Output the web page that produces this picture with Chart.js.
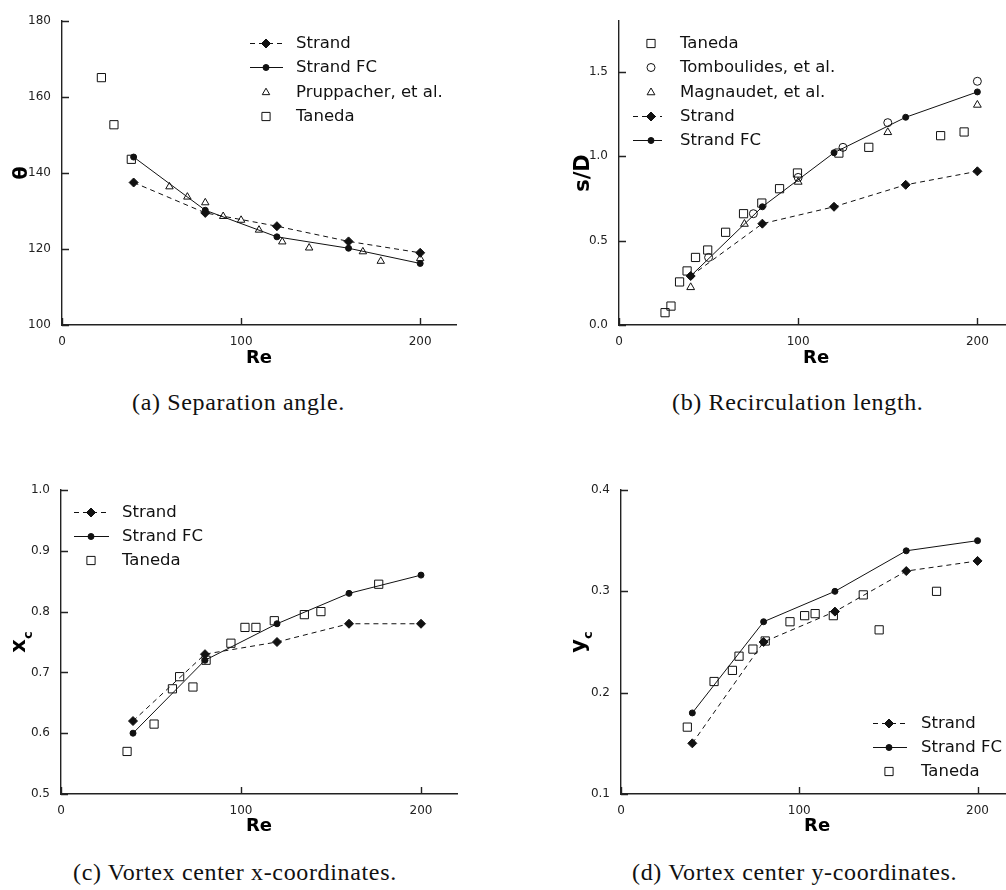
<!DOCTYPE html>
<html>
<head>
<meta charset="utf-8">
<script src="https://cdn.jsdelivr.net/npm/chart.js@4.4.0/dist/chart.umd.min.js"></script>
<style>
  html, body { margin: 0; padding: 0; background: #fff; overflow: hidden; width: 1006px; height: 890px; }
  canvas { position: absolute; }
  .didascalia {
    position: absolute;
    font-family: "Liberation Serif", serif;
    font-size: 24px;
    line-height: 24px;
    letter-spacing: 0.65px;
    color: #111;
    white-space: nowrap;
  }
</style>
</head>
<body>
<canvas id="grafico-a" style="left:0;top:0" width="470" height="372"></canvas>
<canvas id="grafico-b" style="left:500px;top:0" width="520" height="372"></canvas>
<canvas id="grafico-c" style="left:0;top:440px" width="470" height="402"></canvas>
<canvas id="grafico-d" style="left:500px;top:440px" width="520" height="402"></canvas>
<div class="didascalia" style="left:132px;top:390px">(a) Separation angle.</div>
<div class="didascalia" style="left:672px;top:390px">(b) Recirculation length.</div>
<div class="didascalia" style="left:73px;top:860px">(c) Vortex center x-coordinates.</div>
<div class="didascalia" style="left:632px;top:860px">(d) Vortex center y-coordinates.</div>
<script>
// asse Re comune
const reTicks = [0, 100, 200];
const reMax = 220;
const reStrand = [40, 80, 120, 160, 200];

// (a) angolo di separazione
const thetaTicks = [100, 120, 140, 160, 180];
const thetaStrand = [137.5, 129.5, 126, 122, 119];
const thetaStrandFC = [144.2, 130.2, 123.2, 120.2, 116.2];
const rePruppacher = [60, 70, 80, 90, 100, 110, 123, 138, 168, 178, 200];
const thetaPruppacher = [136.4, 133.7, 132.2, 128.6, 127.6, 125, 121.9, 120.3, 119.3, 116.8, 117.5];
const reTanedaA = [22, 29, 38.7];
const thetaTaneda = [165.1, 152.7, 143.6];

// (b) lunghezza di ricircolo
const sdTicks = [0, 0.5, 1.0, 1.5];
const reTanedaB = [25.7, 29, 33.8, 38, 42.7, 49.5, 59.5, 69.5, 79.7, 89.6, 99.6, 122.7, 139.4, 179.5, 192.6];
const sdTaneda = [0.073, 0.112, 0.255, 0.32, 0.40, 0.444, 0.549, 0.659, 0.722, 0.807, 0.90, 1.018, 1.052, 1.121, 1.143];
const reTomboulides = [50, 75, 100, 125, 150, 200];
const sdTomboulides = [0.40, 0.659, 0.874, 1.052, 1.198, 1.443];
const reMagnaudet = [40, 70, 100, 150, 200];
const sdMagnaudet = [0.223, 0.598, 0.847, 1.141, 1.303];
const sdStrand = [0.29, 0.60, 0.70, 0.83, 0.91];
const sdStrandFC = [0.29, 0.70, 1.02, 1.23, 1.38];

// (c) centro del vortice, x
const xcTicks = [0.5, 0.6, 0.7, 0.8, 0.9, 1.0];
const xcStrand = [0.62, 0.73, 0.75, 0.78, 0.78];
const xcStrandFC = [0.60, 0.72, 0.78, 0.83, 0.86];
const reTanedaC = [36.7, 51.7, 61.9, 65.9, 73.3, 80.6, 94.4, 102.2, 108.3, 118.5, 135.2, 144.4, 176.5];
const xcTaneda = [0.570, 0.615, 0.673, 0.693, 0.676, 0.720, 0.748, 0.774, 0.774, 0.785, 0.795, 0.800, 0.845];

// (d) centro del vortice, y
const ycTicks = [0.1, 0.2, 0.3, 0.4];
const ycStrand = [0.15, 0.25, 0.28, 0.32, 0.33];
const ycStrandFC = [0.18, 0.27, 0.30, 0.34, 0.35];
const reTanedaD = [37.2, 52.2, 62.5, 66.2, 74, 80.9, 94.8, 103, 108.9, 119.1, 135.9, 144.8, 177];
const ycTaneda = [0.166, 0.211, 0.222, 0.236, 0.243, 0.251, 0.270, 0.276, 0.278, 0.276, 0.2965, 0.262, 0.300];

const nero = '#111';
const vuoto = 'rgba(0,0,0,0)';
const FONT = "'DejaVu Sans', sans-serif";

Chart.defaults.font.family = FONT;
Chart.defaults.color = '#222';

const punti = (xs, ys) => xs.map((x, i) => ({ x: x, y: ys[i] }));

function strand(ys) {
  return { label: 'Strand', data: punti(reStrand, ys), showLine: true, borderColor: nero, borderWidth: 1,
    borderDash: [5, 4], pointStyle: 'rectRot', pointRadius: 4.5, pointBackgroundColor: nero,
    pointBorderColor: nero, pointBorderWidth: 1 };
}
function strandFC(ys) {
  return { label: 'Strand FC', data: punti(reStrand, ys), showLine: true, borderColor: nero, borderWidth: 1,
    pointStyle: 'circle', pointRadius: 3, pointBackgroundColor: nero, pointBorderColor: nero, pointBorderWidth: 1 };
}
function sperimentali(label, xs, ys, stile, r) {
  return { label: label, data: punti(xs, ys), showLine: false, borderColor: nero, pointStyle: stile,
    pointRadius: r, pointBackgroundColor: vuoto, pointBorderColor: nero, pointBorderWidth: 1 };
}

// tacche rivolte verso l'interno
const tacche = {
  id: 'tacche',
  afterDraw(chart) {
    const { ctx, chartArea } = chart;
    const sx = chart.scales.x, sy = chart.scales.y;
    ctx.save();
    ctx.strokeStyle = '#222';
    ctx.lineWidth = 1.4;
    ctx.beginPath();
    sx.ticks.forEach(t => {
      const px = Math.round(sx.getPixelForValue(t.value)) + 0.5;
      ctx.moveTo(px, chartArea.bottom);
      ctx.lineTo(px, chartArea.bottom - 7);
    });
    sy.ticks.forEach(t => {
      const py = Math.round(sy.getPixelForValue(t.value)) + 0.5;
      ctx.moveTo(chartArea.left, py);
      ctx.lineTo(chartArea.left + 7, py);
    });
    ctx.stroke();
    ctx.restore();
  }
};

// titolo dell'asse y, ruotato, con pedice opzionale
const titoloY = {
  id: 'titoloY',
  afterDraw(chart, args, opts) {
    if (!opts || !opts.text) return;
    const { ctx, chartArea } = chart;
    const cy = (chartArea.top + chartArea.bottom) / 2;
    ctx.save();
    ctx.fillStyle = '#000';
    ctx.translate(opts.x, cy);
    ctx.rotate(-Math.PI / 2);
    ctx.textBaseline = 'alphabetic';
    ctx.textAlign = 'left';
    const fMain = 'bold ' + opts.size + 'px ' + FONT;
    const fSub = 'bold ' + (opts.subSize || 13) + 'px ' + FONT;
    ctx.font = fMain;
    const wMain = ctx.measureText(opts.text).width;
    let wSub = 0;
    if (opts.sub) { ctx.font = fSub; wSub = ctx.measureText(opts.sub).width; }
    const x0 = -(wMain + wSub) / 2;
    ctx.font = fMain;
    ctx.fillText(opts.text, x0, 0);
    if (opts.sub) {
      ctx.font = fSub;
      ctx.fillText(opts.sub, x0 + wMain, opts.subDrop || 7);
    }
    ctx.restore();
  }
};

// legenda posizionata a mano
const legendaFissa = {
  id: 'legendaFissa',
  afterDraw(chart, args, opts) {
    if (!opts || !opts.rows) return;
    const ctx = chart.ctx;
    chart.data.datasets.forEach((ds, i) => {
      const y = opts.rows[i];
      ctx.save();
      if (ds.showLine) {
        ctx.strokeStyle = ds.borderColor;
        ctx.lineWidth = ds.borderWidth;
        ctx.setLineDash(ds.borderDash || []);
        ctx.beginPath();
        ctx.moveTo(opts.x0, y + 0.5);
        ctx.lineTo(opts.x1, y + 0.5);
        ctx.stroke();
        ctx.setLineDash([]);
      }
      ctx.fillStyle = ds.pointBackgroundColor;
      ctx.strokeStyle = ds.pointBorderColor;
      ctx.lineWidth = ds.pointBorderWidth;
      Chart.helpers.drawPoint(ctx, { pointStyle: ds.pointStyle, radius: ds.pointRadius, rotation: 0,
        borderWidth: ds.pointBorderWidth }, opts.xm, y + 0.5);
      ctx.fillStyle = '#111';
      ctx.font = '16.5px ' + FONT;
      ctx.textBaseline = 'middle';
      ctx.textAlign = 'left';
      ctx.fillText(ds.label, opts.xt, y + 1);
      ctx.restore();
    });
  }
};

function creaGrafico(id, cfg) {
  const canvas = document.getElementById(id);
  const area = cfg.area;
  return new Chart(canvas.getContext('2d'), {
    type: 'scatter',
    data: { datasets: cfg.datasets },
    options: {
      responsive: false,
      animation: false,
      events: [],
      layout: { padding: { left: 0, top: area.top, right: canvas.width - area.right, bottom: 0 } },
      plugins: {
        legend: { display: false },
        tooltip: { enabled: false },
        legendaFissa: cfg.legenda,
        titoloY: cfg.titoloY
      },
      scales: {
        x: {
          type: 'linear', min: 0, max: reMax,
          afterBuildTicks: s => { s.ticks = reTicks.map(v => ({ value: v })); },
          afterFit: s => { s.height = canvas.height - area.bottom; },
          grid: { display: false },
          border: { display: true, color: '#222', width: 1.4 },
          ticks: { padding: 2, font: { size: 12 }, color: '#222' },
          title: { display: true, text: 'Re', color: '#000', font: { size: 18, weight: 'bold' },
            padding: { top: 0, bottom: cfg.rePad } }
        },
        y: {
          type: 'linear', min: cfg.yTicks[0], max: cfg.yMax,
          afterBuildTicks: s => { s.ticks = cfg.yTicks.map(v => ({ value: v })); },
          afterFit: s => { s.width = area.left; },
          grid: { display: false },
          border: { display: true, color: '#222', width: 1.4 },
          ticks: { padding: 3, font: { size: 12 }, color: '#222', callback: v => v.toFixed(cfg.dec) }
        }
      }
    },
    plugins: [tacche, titoloY, legendaFissa]
  });
}

creaGrafico('grafico-a', {
  area: { left: 62, top: 21, right: 456, bottom: 325 },
  yTicks: thetaTicks, yMax: 180, dec: 0, rePad: 3,
  titoloY: { text: 'θ', x: 26.5, size: 19 },
  legenda: { x0: 250, x1: 283, xm: 266, xt: 296, rows: [43, 67, 92, 116] },
  datasets: [
    strand(thetaStrand),
    strandFC(thetaStrandFC),
    sperimentali('Pruppacher, et al.', rePruppacher, thetaPruppacher, 'triangle', 4.3),
    sperimentali('Taneda', reTanedaA, thetaTaneda, 'rect', 5.8)
  ]
});

creaGrafico('grafico-b', {
  area: { left: 119, top: 21, right: 515, bottom: 325 },
  yTicks: sdTicks, yMax: 1.8, dec: 1, rePad: 3,
  titoloY: { text: 's/D', x: 89, size: 21 },
  legenda: { x0: 133, x1: 162, xm: 151, xt: 180, rows: [43, 67, 92, 116, 140] },
  datasets: [
    sperimentali('Taneda', reTanedaB, sdTaneda, 'rect', 5.8),
    sperimentali('Tomboulides, et al.', reTomboulides, sdTomboulides, 'circle', 4),
    sperimentali('Magnaudet, et al.', reMagnaudet, sdMagnaudet, 'triangle', 4.5),
    strand(sdStrand),
    strandFC(sdStrandFC)
  ]
});

creaGrafico('grafico-c', {
  area: { left: 61, top: 50, right: 457, bottom: 354 },
  yTicks: xcTicks, yMax: 1.0, dec: 1, rePad: 5,
  titoloY: { text: 'x', sub: 'c', x: 25, size: 21 },
  legenda: { x0: 74, x1: 109, xm: 91, xt: 122, rows: [72, 96, 120] },
  datasets: [
    strand(xcStrand),
    strandFC(xcStrandFC),
    sperimentali('Taneda', reTanedaC, xcTaneda, 'rect', 5.8)
  ]
});

creaGrafico('grafico-d', {
  area: { left: 121, top: 50, right: 515, bottom: 354 },
  yTicks: ycTicks, yMax: 0.4, dec: 1, rePad: 5,
  titoloY: { text: 'y', sub: 'c', x: 85, size: 21 },
  legenda: { x0: 373, x1: 407, xm: 389, xt: 421, rows: [283, 307, 331] },
  datasets: [
    strand(ycStrand),
    strandFC(ycStrandFC),
    sperimentali('Taneda', reTanedaD, ycTaneda, 'rect', 5.8)
  ]
});
</script>
</body>
</html>
